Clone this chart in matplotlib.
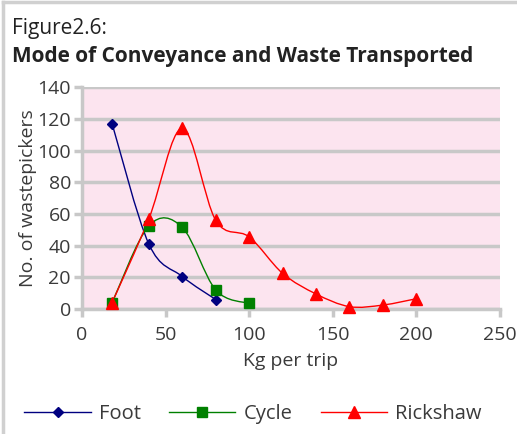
import numpy as np
import matplotlib
matplotlib.use("Agg")
import matplotlib.pyplot as plt
from matplotlib.path import Path
from matplotlib.patches import PathPatch
from matplotlib.lines import Line2D

plt.rcParams['font.family'] = ['Open Sans', 'DejaVu Sans']

# data
foot_x = [18, 40, 60, 80]
foot_y = [117, 41, 20.5, 6]
cycle_x = [18, 40, 60, 80, 100]
cycle_y = [4, 52.5, 51.5, 12, 3.5]
rick_x = [18, 40, 60, 80, 100, 120, 140, 160, 180, 200]
rick_y = [4, 57, 114, 56, 45.5, 22.5, 9.5, 1.5, 2.5, 6.5]

x_ticks = [0, 50, 100, 150, 200, 250]
y_ticks = [0, 20, 40, 60, 80, 100, 120, 140]

TEXT = '#3a3a3a'
GRID = '#c8c8c8'
PINK = '#fce4ef'


def smooth_path(xs, ys):
    # excel-style smoothed line: cubic bezier through the points
    p = np.column_stack([xs, ys]).astype(float)
    n = len(p)
    verts = [p[0]]
    codes = [Path.MOVETO]
    for i in range(n - 1):
        p0 = p[i - 1] if i > 0 else p[i]
        p3 = p[i + 2] if i + 2 < n else p[i + 1]
        c1 = p[i] + (p[i + 1] - p0) / 6.0
        c2 = p[i + 1] - (p3 - p[i]) / 6.0
        verts += [c1, c2, p[i + 1]]
        codes += [Path.CURVE4] * 3
    return Path(verts, codes)


fig = plt.figure(figsize=(5.17, 4.34), dpi=100)
ax = fig.add_axes([0.1586, 0.288, 0.8084, 0.511])
ax.set_facecolor(PINK)

series = [
    (foot_x, foot_y, '#000080', 'D', 5, 'Foot'),
    (cycle_x, cycle_y, '#008000', 's', 7, 'Cycle'),
    (rick_x, rick_y, '#ff0000', '^', 8, 'Rickshaw'),
]
handles = []
for xs, ys, col, mk, ms, name in series:
    ax.add_patch(PathPatch(smooth_path(xs, ys), facecolor='none',
                           edgecolor=col, lw=1.0, zorder=3))
    ax.plot(xs, ys, ls='none', marker=mk, ms=ms, color=col,
            markeredgecolor=col, zorder=4, clip_on=False)
    handles.append(Line2D([], [], color=col, lw=1.0, marker=mk, ms=ms,
                          markeredgecolor=col, label=name))

ax.set_xlim(0, 250)
ax.set_ylim(0, 140)
ax.set_xticks(x_ticks)
ax.set_yticks(y_ticks)
ax.yaxis.grid(True, color=GRID, lw=2.5)
ax.set_axisbelow(True)
for side in ['top', 'right']:
    ax.spines[side].set_visible(False)
for side in ['left', 'bottom']:
    ax.spines[side].set_color(GRID)
    ax.spines[side].set_linewidth(2.5)
ax.tick_params(axis='both', colors=GRID, length=6, width=2.5,
               labelcolor=TEXT, labelsize=14)
ax.tick_params(axis='x', pad=6)
ax.tick_params(axis='y', pad=2)

ax.set_xlabel('Kg per trip', fontsize=14, color=TEXT, labelpad=6)
ax.set_ylabel('No. of wastepickers', fontsize=14, color=TEXT, labelpad=0)

fig.text(0.023, 0.922, 'Figure2.6:', fontsize=15, color='#222222')
fig.text(0.023, 0.858, 'Mode of Conveyance and Waste Transported',
         fontsize=15, fontweight='bold', color='#222222')

leg = fig.legend(handles=handles, loc='center left', ncol=3,
                 bbox_to_anchor=(0.012, 0.047), frameon=False,
                 fontsize=14.5, handlelength=3.3, columnspacing=1.4,
                 handletextpad=0.4, labelcolor=TEXT)

# light grey frame on the top and left edges
fig.add_artist(Line2D([0.006, 0.006], [0, 0.995], transform=fig.transFigure,
                      color='#d0d0d0', lw=2.5))
fig.add_artist(Line2D([0.006, 0.997], [0.995, 0.995], transform=fig.transFigure,
                      color='#d0d0d0', lw=2.5))

fig.savefig('out.png', dpi=100)
